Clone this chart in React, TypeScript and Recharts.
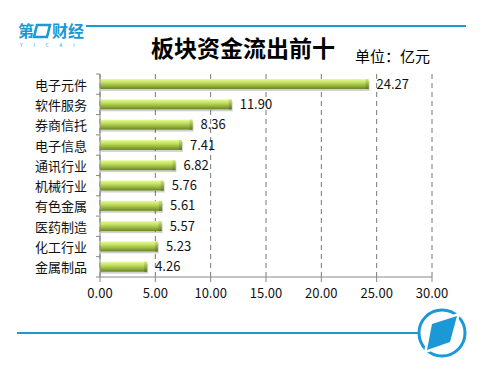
import { Bar, BarChart, CartesianGrid, LabelList, XAxis, YAxis } from 'recharts';

const categories = ['电子元件', '软件服务', '券商信托', '电子信息', '通讯行业', '机械行业', '有色金属', '医药制造', '化工行业', '金属制品'];
const outflow = [24.27, 11.9, 8.36, 7.41, 6.82, 5.76, 5.61, 5.57, 5.23, 4.26];
const xTicks = [0, 5, 10, 15, 20, 25, 30];

const data = categories.map((name, i) => ({ name, v: outflow[i] }));

const W = 492;
const H = 373;
const TOP = 74;
const BOTTOM = 96;
const BAND = (H - TOP - BOTTOM) / categories.length;
const BLUE = '#1b98d5';
const FONT = '"Noto Sans CJK SC", "Noto Sans", sans-serif';

// Excel style: tick marks on the band edges, not the centres
function CatTick(props: any) {
  const { x, y, payload, index } = props;
  return (
    <g>
      <line x1={x - 4} x2={x} y1={y - BAND / 2} y2={y - BAND / 2} stroke="#888" />
      {index === categories.length - 1 && (
        <line x1={x - 4} x2={x} y1={y + BAND / 2} y2={y + BAND / 2} stroke="#888" />
      )}
      <text x={x - 13} y={y} textAnchor="end" dominantBaseline="central" fontSize={13} fill="#111" fontFamily={FONT}>
        {payload.value}
      </text>
    </g>
  );
}

function BarShape(props: any) {
  const { x, y, width, height } = props;
  if (!width || width <= 0) return null;
  return (
    <g>
      <rect x={x + 1} y={y + 2} width={width} height={height} fill="#000" opacity={0.18} />
      <rect x={x} y={y} width={width} height={height} fill="url(#barGrad)" />
      <rect x={x + width - 3} y={y} width={3} height={height} fill="url(#capGrad)" />
    </g>
  );
}

export default function App() {
  return (
    <div style={{ position: 'fixed', left: 0, top: 0, width: W, height: H, background: '#fff' }}>
      <BarChart
        width={W}
        height={H}
        data={data}
        layout="vertical"
        margin={{ top: TOP, right: 60, bottom: BOTTOM - 30, left: 10 }}
        barCategoryGap={0}
      >
        <defs>
          <linearGradient id="barGrad" x1="0" y1="0" x2="0" y2="1">
            <stop offset="0%" stopColor="#e8fa9c" />
            <stop offset="35%" stopColor="#c4e060" />
            <stop offset="75%" stopColor="#8caa3a" />
            <stop offset="100%" stopColor="#6a8526" />
          </linearGradient>
          <linearGradient id="capGrad" x1="0" y1="0" x2="0" y2="1">
            <stop offset="0%" stopColor="#d2ea7c" />
            <stop offset="100%" stopColor="#5d7620" />
          </linearGradient>
        </defs>
        <CartesianGrid horizontal={false} stroke="#777" strokeDasharray="5 4" />
        <XAxis
          type="number"
          domain={[0, 30]}
          ticks={xTicks}
          height={30}
          tickSize={5}
          tickMargin={7}
          tickFormatter={(v: number) => v.toFixed(2)}
          axisLine={{ stroke: '#888' }}
          tickLine={{ stroke: '#888' }}
          tick={{ fontSize: 13, fill: '#111', fontFamily: FONT }}
        />
        <YAxis
          type="category"
          dataKey="name"
          width={90}
          tickSize={0}
          tickMargin={0}
          tickLine={false}
          axisLine={{ stroke: '#888' }}
          tick={<CatTick />}
          interval={0}
        />
        <Bar dataKey="v" barSize={10} shape={<BarShape />} isAnimationActive={false}>
          <LabelList
            dataKey="v"
            position="right"
            offset={8}
            formatter={(v: any) => Number(v).toFixed(2)}
            style={{ fontSize: 13, fill: '#111', fontFamily: FONT }}
          />
        </Bar>
      </BarChart>

      <svg width={W} height={H} style={{ position: 'absolute', left: 0, top: 0, pointerEvents: 'none' }}>
        {/* header */}
        <line x1={86} x2={466} y1={26} y2={26} stroke={BLUE} strokeWidth={2} />
        <text x={18} y={37} fontSize={16} fontWeight={700} fill={BLUE} fontFamily={FONT}>第</text>
        <polygon points="37,25 50,25 47,37 34,37" fill="none" stroke={BLUE} strokeWidth={2.5} />
        <text x={52} y={37} fontSize={16} fontWeight={700} fill={BLUE} fontFamily={FONT}>财经</text>
        <text x={20} y={47} fontSize={4.5} fill={BLUE} fontFamily={FONT} letterSpacing={11}>YICAI</text>
        <text x={243} y={57} textAnchor="middle" fontSize={23} fontWeight={700} fill="#000" fontFamily={FONT}>
          板块资金流出前十
        </text>
        <text x={355} y={62} fontSize={15} fill="#000" fontFamily={FONT}>单位：亿元</text>

        {/* footer */}
        <line x1={17} x2={418} y1={333} y2={333} stroke={BLUE} strokeWidth={2} />
        <circle cx={442} cy={333} r={23} fill="none" stroke={BLUE} strokeWidth={3} />
        <polygon points="432,324 457,316 450,342 427,350" fill="#fff" stroke="#fff" strokeWidth={5} />
        <polygon points="432,324 457,316 450,342 427,350" fill={BLUE} />
      </svg>
    </div>
  );
}
